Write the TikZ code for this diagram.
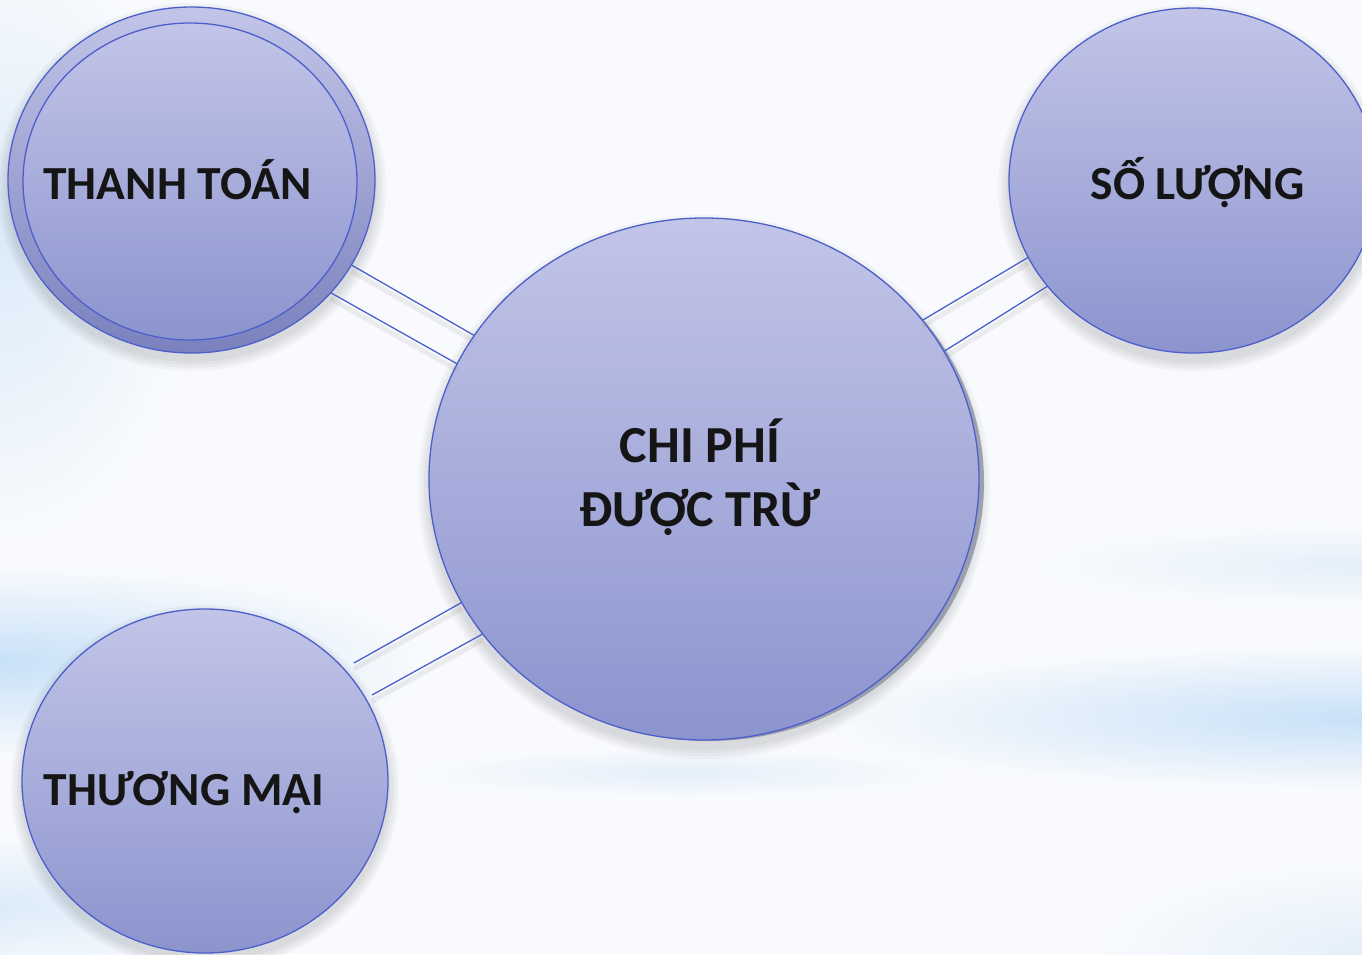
\documentclass[tikz,border=0pt]{standalone}
\usepackage{fontspec}
\setmainfont{Carlito}
\usetikzlibrary{shapes.geometric}
\definecolor{bgbase}{HTML}{F8FAFD}
\definecolor{glowa}{HTML}{C8E1F7}
\definecolor{glowb}{HTML}{DCEBF9}
\definecolor{glowc}{HTML}{E4EFFA}
\definecolor{topfill}{HTML}{C2C5E8}
\definecolor{botfill}{HTML}{8C94CE}
\definecolor{rimdark}{HTML}{7A81BD}
\definecolor{rimblue}{HTML}{4C5FCB}
\definecolor{shgray}{HTML}{868B9E}
\definecolor{txt}{HTML}{151515}
\begin{document}
\begin{tikzpicture}[x=1pt,y=-1pt,
  bubble/.style={ellipse, draw=rimblue, line width=1.3pt, top color=topfill, bottom color=botfill, inner sep=0pt, outer sep=0pt},
  lbl/.style={font=\fontsize{47.5}{64}\selectfont\bfseries, text=txt, align=center, inner sep=0pt},
  biglbl/.style={font=\fontsize{52}{64}\selectfont\bfseries, text=txt, align=center, inner sep=0pt},
  link/.style={draw=rimblue, line width=1.3pt},
  linkshadow/.style={draw=gray, opacity=0.12, line width=5pt},
  glow/.style={inner color=#1, outer color=bgbase},
  softshadow/.style={fill=black, opacity=0.03}]
\useasboundingbox (0,0) rectangle (1362,954);
\clip (0,0) rectangle (1362,954);
% background
\fill[bgbase] (0,0) rectangle (1362,954);
\shade[glow=glowb] (0,240) ellipse [x radius=190, y radius=300];
\shade[glow=glowa] (0,662) ellipse [x radius=430, y radius=95];
\shade[glow=glowb] (0,905) ellipse [x radius=260, y radius=70];
\shade[glow=glowc] (681,773) ellipse [x radius=265, y radius=24];
\shade[glow=glowc] (1362,565) ellipse [x radius=320, y radius=40];
\shade[glow=glowa] (1362,718) ellipse [x radius=540, y radius=72];
\shade[glow=glowc] (1362,954) ellipse [x radius=260, y radius=90];
% soft shadows of the bubbles
\foreach \r in {2,5,8,11}{
  \fill[softshadow] (704,487) ellipse [x radius=275+\r, y radius=261+\r];
  \fill[softshadow] (191.5,187) ellipse [x radius=183.5+\r, y radius=173+\r];
  \fill[softshadow] (1193,188) ellipse [x radius=184+\r, y radius=172.5+\r];
  \fill[softshadow] (205,788) ellipse [x radius=183+\r, y radius=172+\r];
}
% shadow crescent of the centre bubble
\fill[shgray, opacity=0.75] (709,482) ellipse [x radius=275, y radius=259];
% bubbles
\node[bubble, minimum width=550pt, minimum height=522pt] (c) at (704,479) {};
\node[bubble, bottom color=rimdark, minimum width=367pt, minimum height=346pt] (tlo) at (191.5,180) {};
\node[bubble, minimum width=334pt, minimum height=317pt] (tl) at (190,181.5) {};
\node[bubble, minimum width=368pt, minimum height=345pt] (tr) at (1193,180.5) {};
\node[bubble, minimum width=366pt, minimum height=344pt] (bl) at (205,781) {};
\coordinate (b1) at (354,663);
\coordinate (b2) at (372,695);
% connector shadows
\draw[linkshadow] ([yshift=-6pt]tlo.-28.4) -- ([yshift=-6pt]c.148.35);
\draw[linkshadow] ([yshift=-6pt]tlo.-39.9) -- ([yshift=-6pt]c.155.76);
\draw[linkshadow] ([yshift=-6pt]c.36.3) -- ([yshift=-6pt]tr.205.2);
\draw[linkshadow] ([yshift=-6pt]c.28.6) -- ([yshift=-6pt]tr.216.4);
\draw[linkshadow] ([yshift=-6pt]b1) -- ([yshift=-6pt]c.-153.5);
\draw[linkshadow] ([yshift=-6pt]b2) -- ([yshift=-6pt]c.-145.8);
% connectors
\draw[link] (tlo.-28.4) -- (c.148.35);
\draw[link] (tlo.-39.9) -- (c.155.76);
\draw[link] (c.36.3) -- (tr.205.2);
\draw[link] (c.28.6) -- (tr.216.4);
\draw[link] (b1) -- (c.-153.5);
\draw[link] (b2) -- (c.-145.8);
% labels
\node[lbl, anchor=base] (ttl) at (177.5,199) {THANH TOÁN};
\node[lbl, anchor=base] (ttr) at (1197.5,199) {SỐ LƯỢNG};
\node[lbl, anchor=base] (tbl) at (184,805) {THƯƠNG MẠI};
\node[biglbl] (tc) at (700,477) {CHI PHÍ\\ĐƯỢC TRỪ};
\end{tikzpicture}
\end{document}
